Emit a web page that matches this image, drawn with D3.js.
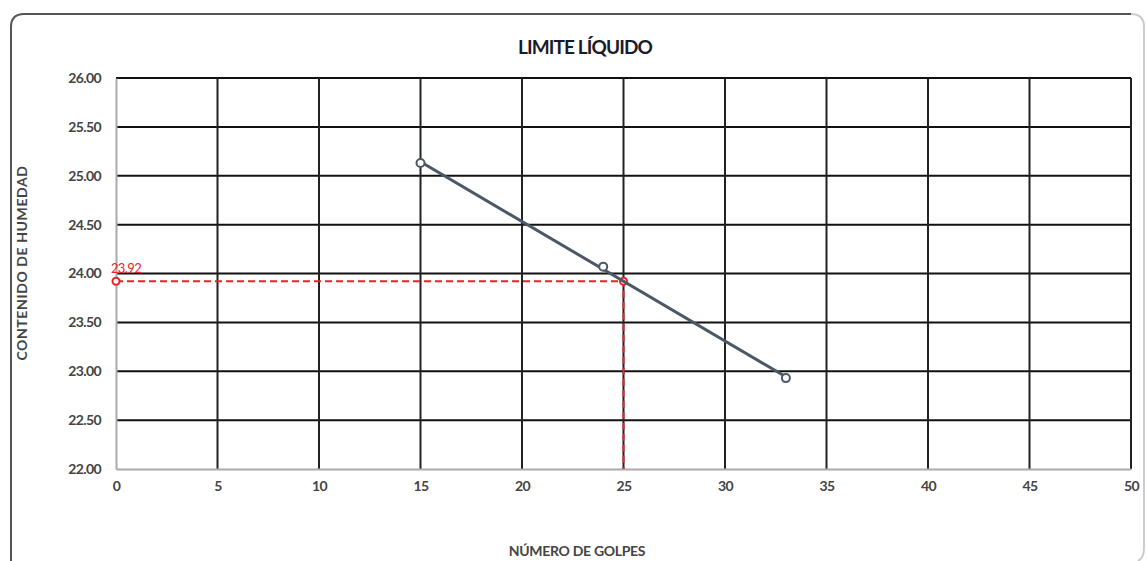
<!DOCTYPE html>
<html lang="es">
<head>
<meta charset="UTF-8">
<title>Limite Liquido</title>
<script src="https://d3js.org/d3.v7.min.js"></script>
<style>
  body { margin: 0; background: #fff; }
  text { font-family: Lato, "Open Sans", sans-serif; }
</style>
</head>
<body>
<div class="chart"></div>
<script>
  // data
  const golpes = [15, 24, 33];
  const humedad = [25.13, 24.07, 22.93];
  const xTicks = [0, 5, 10, 15, 20, 25, 30, 35, 40, 45, 50];
  const yTicks = [22.0, 22.5, 23.0, 23.5, 24.0, 24.5, 25.0, 25.5, 26.0];
  const golpesRef = 25;

  const W = 1147, H = 561;
  const margin = {top: 78, right: 16, bottom: 92, left: 116};
  const width = W - margin.left - margin.right;
  const height = H - margin.top - margin.bottom;

  const svg = d3.select('.chart').append('svg').attr('width', W).attr('height', H);

  // outer frame: dark left/top, faint right side
  svg.append('path')
    .attr('d', 'M11,575V27Q11,14 24,14H1131')
    .attr('fill', 'none').attr('stroke', '#555').attr('stroke-width', 2);
  svg.append('path')
    .attr('d', 'M1131,14Q1144,14 1144,27V548Q1144,558 1138,561')
    .attr('fill', 'none').attr('stroke', '#ccc').attr('stroke-width', 2);

  const g = svg.append('g').attr('transform', `translate(${margin.left} ${margin.top})`);

  const x = d3.scaleLinear().domain([0, 50]).range([0, width]);
  const y = d3.scaleLinear().domain([22, 26]).range([height, 0]);

  // grid
  g.selectAll('.hgrid').data(yTicks.slice(1)).enter().append('line')
    .attr('x1', 0).attr('x2', width).attr('y1', d => y(d)).attr('y2', d => y(d))
    .attr('stroke', '#111').attr('stroke-width', 2);
  g.selectAll('.vgrid').data(xTicks.slice(1)).enter().append('line')
    .attr('x1', d => x(d)).attr('x2', d => x(d)).attr('y1', 0).attr('y2', height)
    .attr('stroke', '#222').attr('stroke-width', 2);

  // axes
  const xAxis = d3.axisBottom(x).tickValues(xTicks).tickSize(0).tickPadding(12);
  const yAxis = d3.axisLeft(y).tickValues(yTicks).tickSize(0).tickPadding(15).tickFormat(d3.format('.2f'));
  const gx = g.append('g').attr('transform', `translate(0 ${height})`).call(xAxis);
  const gy = g.append('g').call(yAxis);
  [gx, gy].forEach(a => {
    a.select('.domain').attr('stroke', '#aaa').attr('stroke-width', 2);
    a.selectAll('text').attr('fill', '#444').attr('font-size', 14).attr('font-weight', 'bold')
      .style('letter-spacing', '-0.6px');
  });

  // least squares trendline
  const mx = d3.mean(golpes), my = d3.mean(humedad);
  const slope = d3.sum(golpes, (v, i) => (v - mx) * (humedad[i] - my)) / d3.sum(golpes, v => (v - mx) ** 2);
  const trend = v => my + slope * (v - mx);
  const hRef = trend(golpesRef);

  // red reference lines
  g.append('path')
    .attr('d', `M${x(0)},${y(hRef)}H${x(golpesRef)}V${y(22)}`)
    .attr('fill', 'none').attr('stroke', '#e8232a').attr('stroke-width', 2)
    .attr('stroke-dasharray', '7,4');
  g.selectAll('.refpt').data([0, golpesRef]).enter().append('circle')
    .attr('cx', d => x(d)).attr('cy', y(hRef)).attr('r', 3.5)
    .attr('fill', '#fff').attr('stroke', '#e8232a').attr('stroke-width', 2);
  g.append('text').attr('x', x(0) + 10).attr('y', y(hRef) - 8)
    .attr('fill', '#e8232a').attr('font-size', 13).attr('text-anchor', 'middle')
    .style('letter-spacing', '-0.6px')
    .text(d3.format('.2f')(hRef));

  // trend line and points
  const ext = d3.extent(golpes);
  g.append('line')
    .attr('x1', x(ext[0])).attr('y1', y(trend(ext[0])))
    .attr('x2', x(ext[1])).attr('y2', y(trend(ext[1])))
    .attr('stroke', '#4b5867').attr('stroke-width', 3);
  g.selectAll('.pt').data(golpes).enter().append('circle')
    .attr('cx', d => x(d)).attr('cy', (d, i) => y(humedad[i])).attr('r', 4)
    .attr('fill', '#fff').attr('stroke', '#4b5867').attr('stroke-width', 2);

  // titles
  svg.append('text').attr('x', 585).attr('y', 54).attr('text-anchor', 'middle')
    .attr('font-size', 19).attr('font-weight', 'bold').attr('fill', '#1a1a2a')
    .style('letter-spacing', '-0.9px').text('LIMITE LÍQUIDO');
  svg.append('text').attr('x', 577).attr('y', 556).attr('text-anchor', 'middle')
    .attr('font-size', 14).attr('font-weight', 'bold').attr('fill', '#444')
    .style('letter-spacing', '-0.3px').text('NÚMERO DE GOLPES');
  svg.append('text').attr('transform', 'translate(27 263) rotate(-90)').attr('text-anchor', 'middle')
    .attr('font-size', 14).attr('font-weight', 'bold').attr('fill', '#444')
    .style('letter-spacing', '0.6px').text('CONTENIDO DE HUMEDAD');
</script>
</body>
</html>
